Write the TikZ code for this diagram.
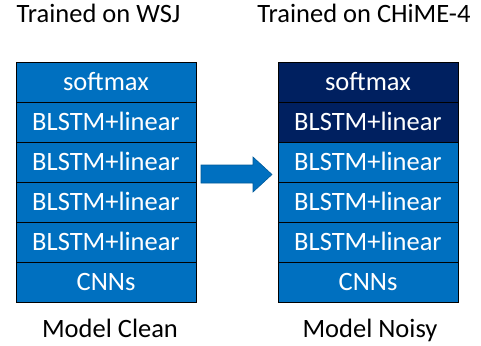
\documentclass[tikz,border=0pt]{standalone}
\usepackage{fontspec}
\setmainfont{Carlito}
\usepackage{tikz}
\usetikzlibrary{positioning}
\definecolor{layerblue}{HTML}{0070C0}
\definecolor{layernavy}{HTML}{002060}

\begin{document}
\begin{tikzpicture}[x=1pt, y=-1pt,
	layer/.style={draw=black, line width=0.9pt, fill=layerblue, text=white,
		minimum width=180pt, minimum height=40pt, inner sep=0pt, outer sep=0pt,
		text height=17pt, text depth=0pt, font=\fontsize{26.5}{30}\selectfont},
	tuned/.style={layer, fill=layernavy},
	caption/.style={anchor=base, font=\fontsize{26.5}{30}\selectfont}]
		% page frame
		\useasboundingbox (0, 0) rectangle (481, 345);
		
		% stack of the clean model
		\node[layer] (csoft) at (106, 82) {softmax};
		\node[layer, below=0pt of csoft] (cblstma) {BLSTM+linear};
		\node[layer, below=0pt of cblstma] (cblstmb) {BLSTM+linear};
		\node[layer, below=0pt of cblstmb] (cblstmc) {BLSTM+linear};
		\node[layer, below=0pt of cblstmc] (cblstmd) {BLSTM+linear};
		\node[layer, below=0pt of cblstmd] (ccnn) {CNNs};
		
		% stack of the noisy model
		\node[tuned] (nsoft) at (368, 82) {softmax};
		\node[tuned, below=0pt of nsoft] (nblstma) {BLSTM+linear};
		\node[layer, below=0pt of nblstma] (nblstmb) {BLSTM+linear};
		\node[layer, below=0pt of nblstmb] (nblstmc) {BLSTM+linear};
		\node[layer, below=0pt of nblstmc] (nblstmd) {BLSTM+linear};
		\node[layer, below=0pt of nblstmd] (ncnn) {CNNs};
		
		% titles and captions
		\node[caption] (ctitle) at (98.5, 23) {Trained on WSJ};
		\node[caption] (ntitle) at (364, 23) {Trained on CHiME-4};
		\node[caption] (cname) at (110, 337) {Model Clean};
		\node[caption] (nname) at (370, 337) {Model Noisy};
		
		% block arrow between the stacks
		\draw[fill=layerblue, draw=layerblue!80!black, line width=0.6pt]
			(201, 165) -- (253, 165) -- (253, 157) -- (272, 174.5)
			-- (253, 192) -- (253, 183) -- (201, 183) -- cycle;
		
	\end{tikzpicture}
\end{document}
